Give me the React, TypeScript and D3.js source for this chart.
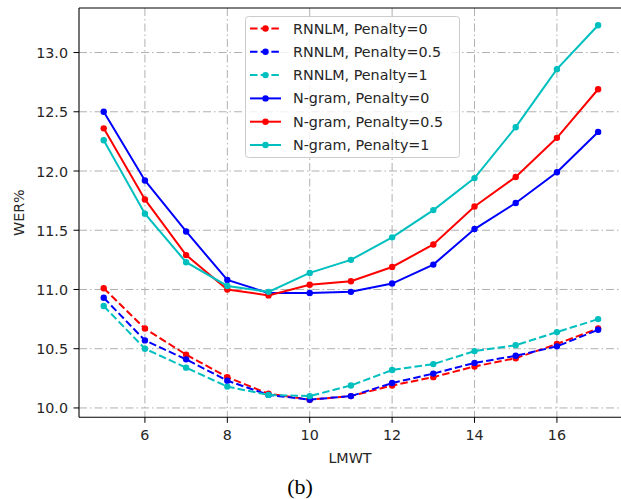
import React from "react";
import * as d3 from "d3";

const lmwt = [5, 6, 7, 8, 9, 10, 11, 12, 13, 14, 15, 16, 17];
const rnnlmP0 = [11.01, 10.67, 10.45, 10.26, 10.12, 10.07, 10.1, 10.19, 10.26, 10.35, 10.42, 10.54, 10.67];
const rnnlmP05 = [10.93, 10.57, 10.41, 10.23, 10.11, 10.07, 10.1, 10.21, 10.29, 10.38, 10.44, 10.52, 10.66];
const rnnlmP1 = [10.86, 10.5, 10.34, 10.18, 10.11, 10.1, 10.19, 10.32, 10.37, 10.48, 10.53, 10.64, 10.75];
const ngramP0 = [12.5, 11.92, 11.49, 11.08, 10.97, 10.97, 10.98, 11.05, 11.21, 11.51, 11.73, 11.99, 12.33];
const ngramP05 = [12.36, 11.76, 11.29, 11.0, 10.95, 11.04, 11.07, 11.19, 11.38, 11.7, 11.95, 12.28, 12.69];
const ngramP1 = [12.26, 11.64, 11.23, 11.03, 10.98, 11.14, 11.25, 11.44, 11.67, 11.94, 12.37, 12.86, 13.23];
const xTicks = [6, 8, 10, 12, 14, 16];
const yTicks = [10.0, 10.5, 11.0, 11.5, 12.0, 12.5, 13.0];

const series = [
  { name: "RNNLM, Penalty=0", values: rnnlmP0, color: "#ff0000", dashed: true },
  { name: "RNNLM, Penalty=0.5", values: rnnlmP05, color: "#0000ff", dashed: true },
  { name: "RNNLM, Penalty=1", values: rnnlmP1, color: "#00bfbf", dashed: true },
  { name: "N-gram, Penalty=0", values: ngramP0, color: "#0000ff", dashed: false },
  { name: "N-gram, Penalty=0.5", values: ngramP05, color: "#ff0000", dashed: false },
  { name: "N-gram, Penalty=1", values: ngramP1, color: "#00bfbf", dashed: false },
];

export default function App() {
  const W = 621, H = 499;
  const left = 79, top = 8, bottom = 417.3;
  const x = d3.scaleLinear().domain([4.4, 17.6]).range([left, left + 13.2 * 41.2]);
  const y = d3.scaleLinear().domain([9.921, 13.376]).range([bottom, top]);
  const right = W;
  const line = d3.line<number>().x((_, i) => x(lmwt[i])).y((d) => y(d));
  const font = "DejaVu Sans, sans-serif";
  const fs = 14.3;
  const gridDash = "8,3,1.5,3";
  return (
    <div style={{ position: "absolute", left: 0, top: 0 }}>
      <svg width={W} height={H} style={{ display: "block", background: "#fff" }}>
        <defs>
          <clipPath id="plot">
            <rect x={left} y={top} width={right - left} height={bottom - top} />
          </clipPath>
        </defs>
        {/* grid */}
        {xTicks.map((t) => (
          <line key={"gx" + t} x1={x(t)} x2={x(t)} y1={top} y2={bottom} stroke="#b0b0b0" strokeWidth={1} strokeDasharray={gridDash} />
        ))}
        {yTicks.map((t) => (
          <line key={"gy" + t} x1={left} x2={right} y1={y(t)} y2={y(t)} stroke="#b0b0b0" strokeWidth={1} strokeDasharray={gridDash} />
        ))}
        {/* series */}
        <g clipPath="url(#plot)">
          {series.map((s) => (
            <g key={s.name}>
              <path d={line(s.values) || ""} fill="none" stroke={s.color} strokeWidth={2} strokeDasharray={s.dashed ? "7.5,3.2" : undefined} />
              {s.values.map((v, i) => (
                <circle key={i} cx={x(lmwt[i])} cy={y(v)} r={3.2} fill={s.color} />
              ))}
            </g>
          ))}
        </g>
        {/* spines */}
        <line x1={left} x2={left} y1={top} y2={bottom} stroke="#000" strokeWidth={1.1} />
        <line x1={left} x2={right} y1={bottom} y2={bottom} stroke="#000" strokeWidth={1.1} />
        <line x1={left} x2={right} y1={top} y2={top} stroke="#000" strokeWidth={1.1} />
        {/* ticks */}
        {xTicks.map((t) => (
          <g key={"tx" + t}>
            <line x1={x(t)} x2={x(t)} y1={bottom} y2={bottom + 5.5} stroke="#000" strokeWidth={1} />
            <text x={x(t)} y={bottom + 23} textAnchor="middle" fontFamily={font} fontSize={fs} fill="#262626">{t}</text>
          </g>
        ))}
        {yTicks.map((t) => (
          <g key={"ty" + t}>
            <line x1={left - 5.5} x2={left} y1={y(t)} y2={y(t)} stroke="#000" strokeWidth={1} />
            <text x={left - 11} y={y(t) + 5.5} textAnchor="end" fontFamily={font} fontSize={fs} fill="#262626">{t.toFixed(1)}</text>
          </g>
        ))}
        {/* axis labels */}
        <text x={350} y={463} textAnchor="middle" fontFamily={font} fontSize={fs} fill="#262626">LMWT</text>
        <text transform={`translate(24,${(top + bottom) / 2}) rotate(-90)`} textAnchor="middle" fontFamily={font} fontSize={fs} fill="#262626">WER%</text>
        {/* legend */}
        <rect x={245.5} y={16.5} width={214} height={141} rx={3} fill="#fff" fillOpacity={0.8} stroke="#cccccc" strokeWidth={1} />
        {series.map((s, i) => {
          const ly = 28.5 + i * 23.3;
          return (
            <g key={"lg" + s.name}>
              <line x1={250} x2={281} y1={ly} y2={ly} stroke={s.color} strokeWidth={2} strokeDasharray={s.dashed ? "7.5,3.2" : undefined} />
              <circle cx={265.5} cy={ly} r={3.2} fill={s.color} />
              <text x={293} y={ly + 5} fontFamily={font} fontSize={fs} fill="#262626">{s.name}</text>
            </g>
          );
        })}
        {/* caption */}
        <text x={300} y={494} textAnchor="middle" fontFamily="Liberation Serif, serif" fontSize={22} fill="#000">(b)</text>
      </svg>
    </div>
  );
}
